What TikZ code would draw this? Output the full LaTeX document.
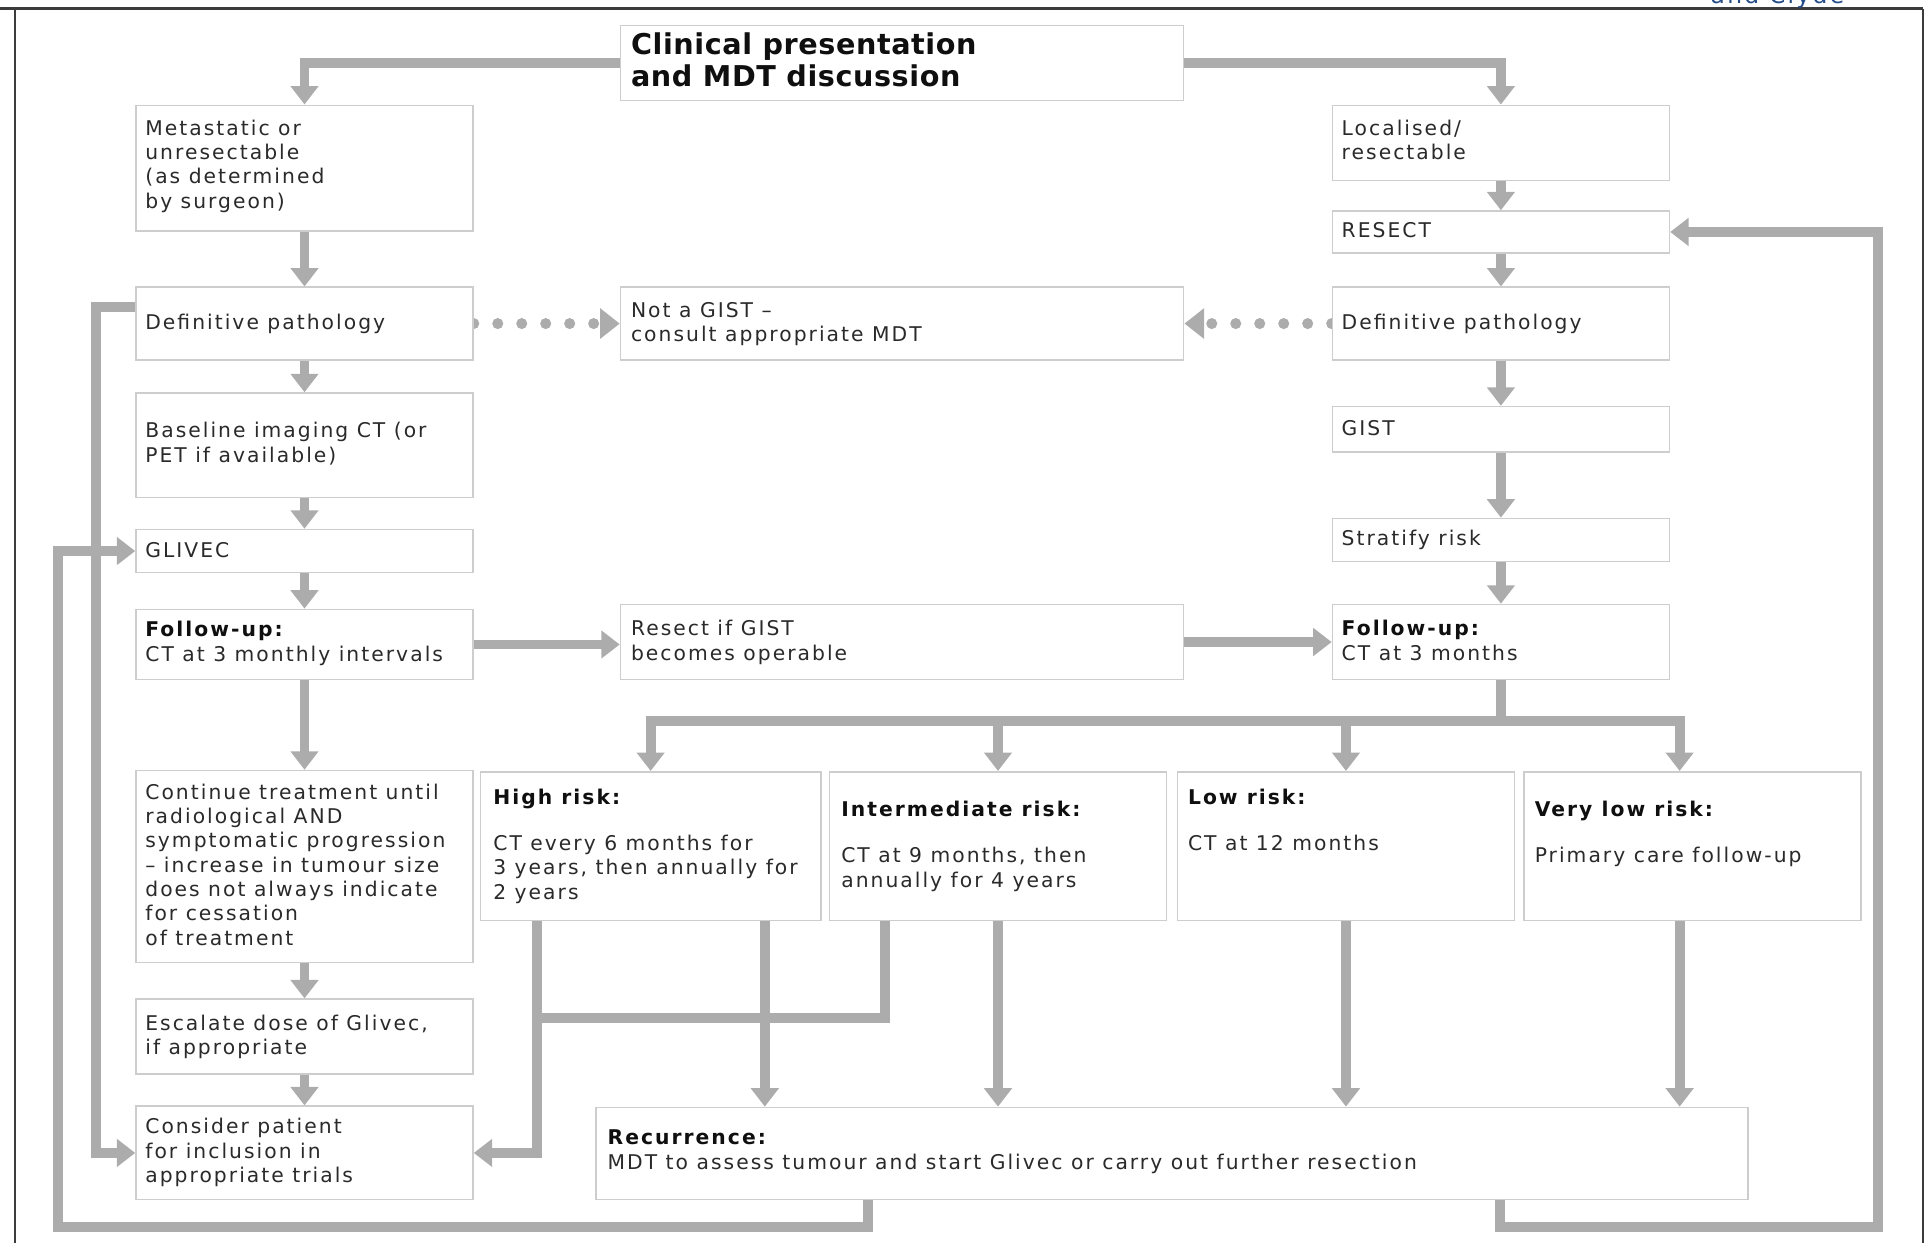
\documentclass[tikz,border=0pt]{standalone}
\usepackage{fontspec}
\setmainfont{DejaVu Sans}[LetterSpace=10]
\newfontfamily\titlefont{DejaVu Sans}[LetterSpace=2]
\usetikzlibrary{arrows.meta,calc,backgrounds}
\definecolor{arrg}{RGB}{172,172,172}
\definecolor{boxc}{RGB}{205,205,205}
\definecolor{txtc}{RGB}{42,42,42}
\definecolor{hdc}{RGB}{15,15,15}
\definecolor{framec}{RGB}{60,60,60}
\definecolor{clydec}{RGB}{35,75,135}
\newcommand\hb[1]{\textcolor{hdc}{\bfseries #1}}
\newcommand\tl[1]{\begin{tabular}[t]{@{}l@{}}#1\end{tabular}}
\newcommand\bx[5]{\node[box, minimum width={(#4-#2)*1pt}, minimum height={(#5-#3)*1pt}] (#1) at (#2,#3) {};}
\begin{document}
\begin{tikzpicture}[x=1pt,y=-1pt,line join=miter,
  box/.style={draw=boxc, line width=1.3pt, fill=white, inner sep=0pt, anchor=north west},
  txt/.style={anchor=base west, inner sep=0pt, text=txtc, font=\fontsize{16.5}{19.8}\selectfont},
  ttl/.style={anchor=base west, inner sep=0pt, text=hdc, font=\titlefont\fontsize{23.3}{26}\selectfont\bfseries},
  arr/.style={draw=arrg, line width=8pt, -{Triangle[width=22pt,length=15pt]}},
  link/.style={draw=arrg, line width=8pt},
  dotarr/.style={draw=arrg, line width=9pt, line cap=round, dash pattern=on 0pt off 19.5pt, -{Triangle[width=24pt,length=16pt]}},
  framel/.style={draw=framec}]
\useasboundingbox (0,0) rectangle (1568,1011);

% frame
\draw[framel, line width=2.5pt] (0,7) -- (1564,7);
\draw[framel, line width=1.4pt] (12,7) -- (12,1011);
\draw[framel, line width=1.4pt] (1564,7) -- (1564,1011);
\node[anchor=base west, inner sep=0pt, text=clydec, font=\fontsize{19}{22}\selectfont] (clyde) at (1391,2.5) {and Clyde};

% boxes
\bx{cl}{504}{20}{962}{81}
\bx{met}{110}{85}{384}{187}
\bx{loc}{1083}{85}{1357}{146}
\bx{res}{1083}{171}{1357}{205}
\bx{dpl}{110}{233}{384}{292}
\bx{ng}{504}{233}{962}{292}
\bx{dpr}{1083}{233}{1357}{292}
\bx{bl}{110}{319}{384}{404}
\bx{gist}{1083}{330}{1357}{367}
\bx{gl}{110}{430}{384}{465}
\bx{sr}{1083}{421}{1357}{456}
\bx{ful}{110}{495}{384}{552}
\bx{rg}{504}{491}{962}{552}
\bx{fur}{1083}{491}{1357}{552}
\bx{ct}{110}{626}{384}{782}
\bx{hr}{390}{627}{667}{748}
\bx{im}{674}{627}{948}{748}
\bx{lo}{957}{627}{1231}{748}
\bx{vl}{1239}{627}{1513}{748}
\bx{esc}{110}{812}{384}{873}
\bx{cons}{110}{899}{384}{975}
\bx{rec}{484}{900}{1421}{975}

% texts (anchored at the baseline of the first line)
\node[ttl] (clt) at (513,44) {\tl{Clinical presentation\\and MDT discussion}};
\node[txt] (mett) at (118,110) {\tl{Metastatic or\\unresectable\\(as determined\\by surgeon)}};
\node[txt] (loct) at (1091,110) {\tl{Localised/\\resectable}};
\node[txt] (rest) at (1091,193) {RESECT};
\node[txt] (dplt) at (118,268) {Definitive pathology};
\node[txt] (ngt) at (513,258) {\tl{Not a GIST –\\consult appropriate MDT}};
\node[txt] (dprt) at (1091,268) {Definitive pathology};
\node[txt] (blt) at (118,356) {\tl{Baseline imaging CT (or\\PET if available)}};
\node[txt] (gistt) at (1091,354) {GIST};
\node[txt] (glt) at (118,453) {GLIVEC};
\node[txt] (srt) at (1091,444) {Stratify risk};
\node[txt] (fult) at (118,518) {\tl{\hb{Follow-up:}\\CT at 3 monthly intervals}};
\node[txt] (rgt) at (513,517) {\tl{Resect if GIST\\becomes operable}};
\node[txt] (furt) at (1091,517) {\tl{\hb{Follow-up:}\\CT at 3 months}};
\node[txt] (ctt) at (118,650) {\tl{Continue treatment until\\radiological AND\\symptomatic progression\\– increase in tumour size\\does not always indicate\\for cessation\\of treatment}};
\node[txt] (hrt) at (401,654) {\tl{\hb{High risk:}\\[18pt]CT every 6 months for\\3 years, then annually for\\2 years}};
\node[txt] (imt) at (684,664) {\tl{\hb{Intermediate risk:}\\[18pt]CT at 9 months, then\\annually for 4 years}};
\node[txt] (lot) at (966,654) {\tl{\hb{Low risk:}\\[18pt]CT at 12 months}};
\node[txt] (vlt) at (1248,664) {\tl{\hb{Very low risk:}\\[18pt]Primary care follow-up}};
\node[txt] (esct) at (118,838) {\tl{Escalate dose of Glivec,\\if appropriate}};
\node[txt] (const) at (118,922) {\tl{Consider patient\\for inclusion in\\appropriate trials}};
\node[txt] (rect) at (494,931) {\tl{\hb{Recurrence:}\\MDT to assess tumour and start Glivec or carry out further resection}};

% helper coordinates
\coordinate (d1) at ($(dpl.north west)+(0,17)$);
\coordinate (dl) at (78,250);
\coordinate (h1) at ($(hr.south west)+(47,0)$);
\coordinate (h2) at ($(hr.south west)+(232,0)$);
\coordinate (i1) at ($(im.south west)+(46,0)$);
\coordinate (j1) at (437,828);
\coordinate (vtop) at ($(vl.north west)+(127,0)$);
\coordinate (vbot) at ($(vl.south west)+(127,0)$);
\coordinate (r1) at ($(rec.south west)+(222,0)$);
\coordinate (r2) at ($(rec.south west)+(736,0)$);
\coordinate (lb) at (47,998);
\coordinate (rb) at (1527,998);
\coordinate (bus) at ($(fur.south)+(0,33)$);

\begin{scope}[on background layer]
% top split
\draw[arr] (cl.west) -| (met.north);
\draw[arr] (cl.east) -| (loc.north);
% left column
\draw[arr] (met.south) -- (dpl.north);
\draw[arr] (dpl.south) -- (bl.north);
\draw[arr] (bl.south) -- (gl.north);
\draw[arr] (gl.south) -- (ful.north);
\draw[arr] (ful.south) -- (ct.north);
\draw[arr] (ct.south) -- (esc.north);
\draw[arr] (esc.south) -- (cons.north);
% right column
\draw[arr] (loc.south) -- (res.north);
\draw[arr] (res.south) -- (dpr.north);
\draw[arr] (dpr.south) -- (gist.north);
\draw[arr] (gist.south) -- (sr.north);
\draw[arr] (sr.south) -- (fur.north);
% dotted
\draw[dotarr] (dpl.east) -- (ng.west);
\draw[dotarr] (dpr.west) -- (ng.east);
% follow-up row
\draw[arr] (ful.east) -- (ful.east -| rg.west);
\draw[arr] (rg.east) -- (fur.west);
% risk bus
\draw[arr] (fur.south) -- (bus) -| (hr.north);
\draw[arr] (fur.south) -- (bus) -| (im.north);
\draw[arr] (fur.south) -- (bus) -| (lo.north);
\draw[arr] (fur.south) -- (bus) -| (vtop);
% risk boxes down
\draw[arr] (h1) |- (cons.east);
\draw[link] (i1) |- (j1);
\draw[arr] (h2) -- (h2 |- rec.north);
\draw[arr] (im.south) -- (im.south |- rec.north);
\draw[arr] (lo.south) -- (lo.south |- rec.north);
\draw[arr] (vbot) -- (vbot |- rec.north);
% loops
\draw[arr] (d1) -- (dl) |- (cons.west);
\draw[arr] (r1) |- (lb) |- (gl.west);
\draw[arr] (r2) |- (rb) |- (res.east);
\end{scope}
\end{tikzpicture}
\end{document}
